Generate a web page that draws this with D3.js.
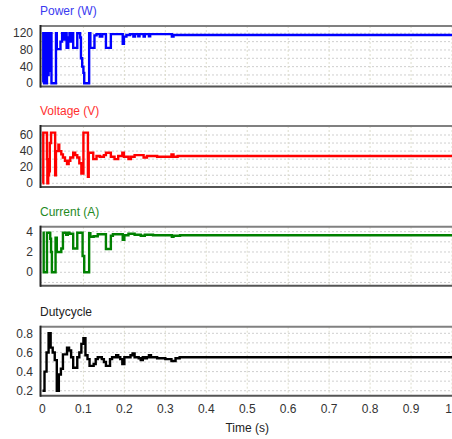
<!DOCTYPE html>
<html><head><meta charset="utf-8">
<script src="https://cdn.jsdelivr.net/npm/d3@7"></script>
<style>body{margin:0;background:#fff}svg{display:block}text{font-family:"Liberation Sans",Arial,sans-serif}</style>
</head><body><svg id="c" width="452" height="439"></svg>
<script>
// ---- data ----
const powerT = [0,0.002,0.004,0.005,0.007,0.008,0.010,0.011,0.012,0.013,0.014,0.015,0.016,0.017,0.018,0.019,0.020,0.021,0.022,0.033,0.035,0.044,0.048,0.053,0.056,0.059,0.063,0.066,0.068,0.071,0.075,0.085,0.092,0.094,0.097,0.100,0.102,0.114,0.117,0.127,0.132,0.140,0.146,0.155,0.167,0.196,0.199,0.205,0.214,0.222,0.226,0.234,0.237,0.247,0.250,0.260,0.263,0.316,0.320,1.0];
const powerV = [3,120,0,120,40,120,0,120,40,110,20,120,50,120,30,115,60,120,0,120,82,100,120,105,120,85,110,120,100,120,85,120,110,60,40,25,0,120,85,115,118,112,118,85,118,95,112,116,118,112,118,113,118,112,118,113,118,112,116,116];

const voltageT = [0,0.002,0.011,0.012,0.014,0.015,0.016,0.017,0.018,0.021,0.031,0.033,0.039,0.041,0.046,0.050,0.055,0.060,0.064,0.068,0.075,0.080,0.085,0.090,0.095,0.100,0.111,0.113,0.124,0.132,0.140,0.150,0.155,0.167,0.176,0.185,0.195,0.199,0.210,0.216,0.225,0.247,0.255,0.280,0.315,0.320,0.330,1.0];
const voltageV = [0,63,30,0,25,10,30,15,50,63,10,40,48,40,36,32,28,24,28,32,38,35,32,25,12,63,8,38,30,34,33,35,38,33,30,34,38,33,30,33,35,32,34,33,36,33,34,34];

const currentT = [0,0.003,0.011,0.019,0.021,0.023,0.032,0.035,0.046,0.050,0.058,0.062,0.066,0.075,0.085,0.098,0.102,0.114,0.117,0.125,0.135,0.155,0.167,0.172,0.196,0.200,0.210,0.225,0.240,0.250,0.270,0.316,0.320,0.336,1.0];
const currentV = [3.9,0,3.9,3.3,2.0,0,3.4,2.0,2.35,3.9,3.7,3.9,3.8,2.35,3.9,1.6,0,3.85,3.5,3.55,3.75,2.3,3.6,3.75,3.2,3.65,3.8,3.7,3.6,3.7,3.65,3.5,3.6,3.65,3.65];

const dutyT = [0,0.005,0.010,0.015,0.020,0.025,0.030,0.035,0.040,0.045,0.050,0.060,0.065,0.070,0.075,0.085,0.090,0.095,0.100,0.105,0.110,0.115,0.125,0.130,0.135,0.145,0.150,0.155,0.165,0.170,0.180,0.185,0.190,0.195,0.200,0.215,0.220,0.225,0.235,0.240,0.245,0.250,0.255,0.260,0.265,0.280,0.300,0.315,0.325,0.335,1.0];
const dutyV = [0.2,0.4,0.6,0.8,0.65,0.6,0.52,0.2,0.37,0.43,0.58,0.65,0.62,0.55,0.44,0.55,0.6,0.69,0.75,0.57,0.53,0.46,0.48,0.53,0.55,0.53,0.5,0.46,0.53,0.55,0.57,0.55,0.53,0.48,0.55,0.57,0.59,0.55,0.54,0.52,0.55,0.54,0.55,0.57,0.55,0.54,0.53,0.51,0.54,0.55,0.55];

const titles = ["Power (W)","Voltage (V)","Current (A)","Dutycycle"];
const powerTicks = [0,40,80,120], powerGrid = [0,20,40,60,80,100,120];
const voltageTicks = [0,20,40,60], voltageGrid = [0,10,20,30,40,50,60];
const currentTicks = [0,2,4], currentGrid = [-1,0,1,2,3,4];
const dutyTicks = [0.2,0.4,0.6,0.8], dutyGrid = [0.2,0.3,0.4,0.5,0.6,0.7,0.8];
const timeTicks = [0,0.1,0.2,0.3,0.4,0.5,0.6,0.7,0.8,0.9,1];
const xLabel = "Time (s)";

// ---- layout ----
const svg = d3.select("#c");
const x = d3.scaleLinear().domain([-0.006,1.0]).range([40,452]);
const panels = [
  {t:powerT, v:powerV, ticks:powerTicks, grid:powerGrid, dom:[-7.7,137.5], top:26, bot:86.5, color:"#0000ff", tcol:"#3a3af0", fmt:d3.format("d")},
  {t:voltageT, v:voltageV, ticks:voltageTicks, grid:voltageGrid, dom:[-4.6,71.2], top:126, bot:187, color:"#ff0000", tcol:"#ff3030", fmt:d3.format("d")},
  {t:currentT, v:currentV, ticks:currentTicks, grid:currentGrid, dom:[-1.32,4.49], top:226.7, bot:285.7, color:"#008000", tcol:"#1f8a1f", fmt:d3.format("d")},
  {t:dutyT, v:dutyV, ticks:dutyTicks, grid:dutyGrid, dom:[0.148,0.869], top:326.7, bot:395.7, color:"#000000", tcol:"#222222", fmt:d3.format(".1f")}
];

panels.forEach((p,i)=>{
  const y = d3.scaleLinear().domain(p.dom).range([p.bot,p.top]);
  const g = svg.append("g");
  g.selectAll(".hg").data(p.grid).join("line")
    .attr("x1",40).attr("x2",452).attr("y1",d=>y(d)).attr("y2",d=>y(d))
    .attr("stroke","#cfcfcf").attr("stroke-width",1).attr("stroke-dasharray","2,2");
  g.selectAll(".vg").data(timeTicks.slice(1)).join("line")
    .attr("x1",d=>x(d)).attr("x2",d=>x(d)).attr("y1",p.top).attr("y2",p.bot)
    .attr("stroke","#dcdccb").attr("stroke-width",1).attr("stroke-dasharray","2,2");
  const clipId = "clip"+i;
  svg.append("clipPath").attr("id",clipId).append("rect")
    .attr("x",40).attr("y",p.top).attr("width",412).attr("height",p.bot-p.top);
  const pts = d3.zip(p.t,p.v);
  g.append("path").datum(pts)
    .attr("clip-path",`url(#${clipId})`)
    .attr("fill","none").attr("stroke",p.color).attr("stroke-width",2.4)
    .attr("d", d3.line().x(d=>x(d[0])).y(d=>y(d[1])).curve(d3.curveStepAfter));
  g.append("line").attr("x1",40).attr("x2",452).attr("y1",p.top).attr("y2",p.top)
    .attr("stroke","#808080").attr("stroke-width",2);
  g.append("line").attr("x1",40).attr("x2",452).attr("y1",p.bot).attr("y2",p.bot)
    .attr("stroke","#555").attr("stroke-width",2);
  g.append("line").attr("x1",40.5).attr("x2",40.5).attr("y1",p.top-1).attr("y2",p.bot+1)
    .attr("stroke","#222").attr("stroke-width",2);
  g.selectAll(".yl").data(p.ticks).join("text")
    .attr("x",33).attr("y",d=>y(d)).attr("dy","0.35em").attr("text-anchor","end")
    .attr("font-size",12).attr("fill","#333").text(p.fmt);
  g.append("text").attr("x",40).attr("y",p.top-11).attr("font-size",12)
    .attr("fill",p.tcol).text(titles[i]);
  if(i===3){
    g.selectAll(".xl").data(timeTicks).join("text")
      .attr("x",d=>Math.min(x(d),448.5)).attr("y",p.bot+17).attr("text-anchor","middle")
      .attr("font-size",12).attr("fill","#333").text(d=>d===0?"0":d===1?"1":d3.format(".1f")(d));
    g.append("text").attr("x",x(0.5)).attr("y",432).attr("text-anchor","middle")
      .attr("font-size",12).attr("fill","#222").text(xLabel);
  }
});
</script></body></html>
